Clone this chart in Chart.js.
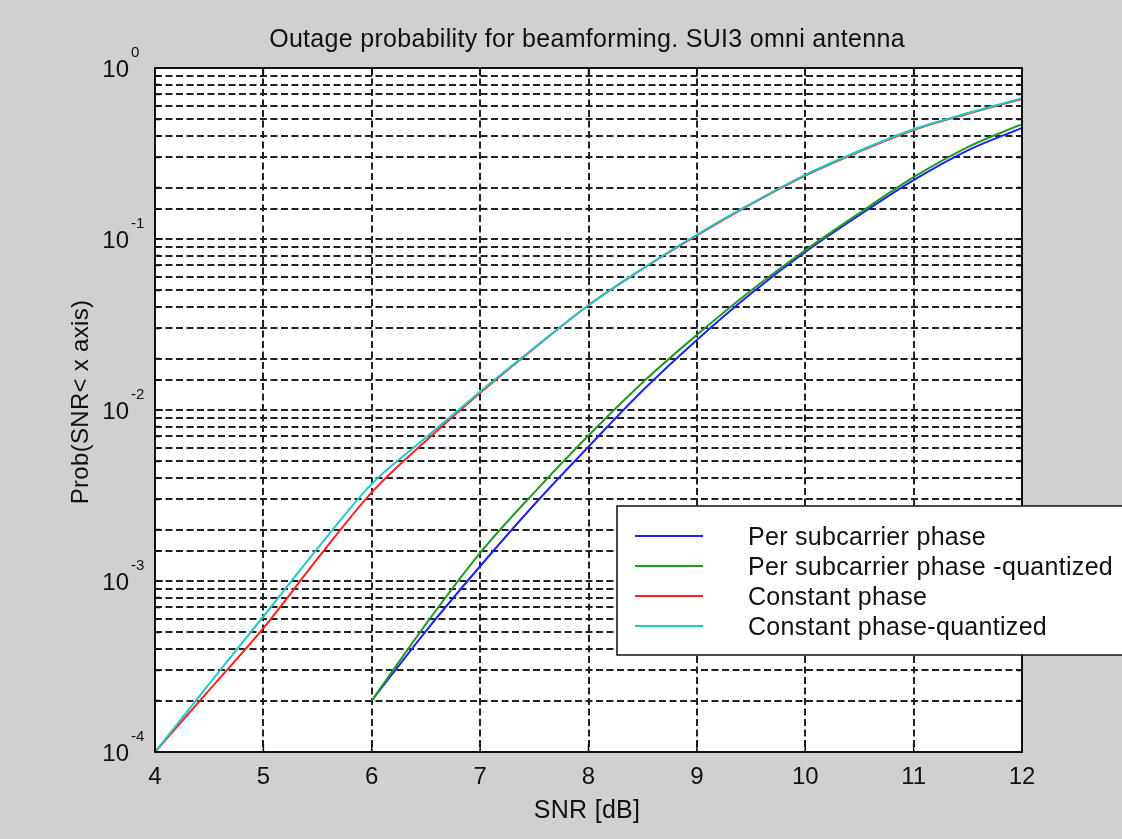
<!DOCTYPE html>
<html>
<head>
<meta charset="utf-8">
<script src="https://cdn.jsdelivr.net/npm/chart.js@4.4.1/dist/chart.umd.min.js"></script>
<style>
  html, body { margin: 0; padding: 0; background: #d0d0d0; }
  canvas { display: block; }
</style>
</head>
<body>
<canvas id="outageChart" width="1122" height="839"></canvas>
<script>
const titleText = "Outage probability for beamforming. SUI3 omni antenna";
const xLabel = "SNR [dB]";
const yLabel = "Prob(SNR< x axis)";

const xTicks = [4, 5, 6, 7, 8, 9, 10, 11, 12];
const yExponents = [0, -1, -2, -3, -4];

const snrConstant = [4, 4.5, 5, 5.5, 6, 6.5, 7, 7.5, 8, 8.5, 9, 9.5, 10, 10.5, 11, 11.5, 12];
const snrPerSub = [6, 6.5, 7, 7.5, 8, 8.5, 9, 9.5, 10, 10.5, 11, 11.5, 12];

const perSubcarrier = [2e-4, 5.1e-4, 1.22e-3, 2.8e-3, 6.1e-3, 1.3e-2, 2.57e-2, 4.8e-2, 8.4e-2, 0.138, 0.221, 0.33, 0.446];
const perSubcarrierQ = [2e-4, 5.6e-4, 1.46e-3, 3.3e-3, 7.1e-3, 1.45e-2, 2.75e-2, 5.0e-2, 8.6e-2, 0.142, 0.23, 0.345, 0.47];
const constantPhase = [1e-4, 2.3e-4, 5.3e-4, 1.35e-3, 3.3e-3, 6.6e-3, 1.26e-2, 2.3e-2, 4.1e-2, 6.7e-2, 0.105, 0.16, 0.235, 0.325, 0.434, 0.54, 0.66];
const constantPhaseQ = [1e-4, 2.5e-4, 6.2e-4, 1.55e-3, 3.7e-3, 6.9e-3, 1.28e-2, 2.31e-2, 4.1e-2, 6.72e-2, 0.106, 0.161, 0.237, 0.328, 0.438, 0.545, 0.665];

const seriesNames = ["Per subcarrier phase", "Per subcarrier phase -quantized", "Constant phase", "Constant phase-quantized"];
const seriesColors = ["#2020ff", "#249a24", "#ff2020", "#20c8c8"];

function pts(xs, ys) {
  return xs.map((x, i) => ({ x: x, y: ys[i] }));
}

const FONT = "'Liberation Sans', Arial, sans-serif";

const matlabLook = {
  id: "matlabLook",
  beforeDraw(chart) {
    const { ctx, chartArea: a } = chart;
    ctx.save();
    ctx.fillStyle = "#d0d0d0";
    ctx.fillRect(0, 0, chart.width, chart.height);
    ctx.fillStyle = "#ffffff";
    ctx.fillRect(a.left, a.top, a.right - a.left, a.bottom - a.top);
    ctx.restore();
  },
  afterDraw(chart) {
    const { ctx, chartArea: a } = chart;
    const xs = chart.scales.x, ys = chart.scales.y;
    ctx.save();

    // inner tick marks
    ctx.strokeStyle = "#111";
    ctx.lineWidth = 1.5;
    ctx.setLineDash([]);
    xTicks.forEach(v => {
      const px = xs.getPixelForValue(v);
      ctx.beginPath();
      ctx.moveTo(px, a.bottom); ctx.lineTo(px, a.bottom - 8);
      ctx.moveTo(px, a.top); ctx.lineTo(px, a.top + 8);
      ctx.stroke();
    });
    ys.ticks.forEach(t => {
      const py = ys.getPixelForValue(t.value);
      const len = t.major ? 8 : 5;
      ctx.beginPath();
      ctx.moveTo(a.left, py); ctx.lineTo(a.left + len, py);
      ctx.moveTo(a.right, py); ctx.lineTo(a.right - len, py);
      ctx.stroke();
    });

    // axes box
    ctx.strokeStyle = "#111";
    ctx.lineWidth = 2;
    ctx.strokeRect(a.left, a.top, a.right - a.left, a.bottom - a.top);

    // title and axis titles
    ctx.fillStyle = "#111";
    ctx.textAlign = "center";
    ctx.textBaseline = "alphabetic";
    ctx.font = "25px " + FONT;
    ctx.letterSpacing = "0.3px";
    ctx.fillText(titleText, 587, 47);
    ctx.fillText(xLabel, 587, 818);
    ctx.font = "24px " + FONT;
    ctx.save();
    ctx.translate(88, 402);
    ctx.rotate(-Math.PI / 2);
    ctx.fillText(yLabel, 0, 0);
    ctx.restore();
    ctx.letterSpacing = "0px";

    // x tick labels
    ctx.font = "24px " + FONT;
    ctx.textAlign = "center";
    ctx.textBaseline = "alphabetic";
    xTicks.forEach(v => {
      ctx.fillText(String(v), xs.getPixelForValue(v), a.bottom + 32);
    });

    // y tick labels 10^n
    yExponents.forEach(e => {
      const py = ys.getPixelForValue(Math.pow(10, e));
      ctx.font = "24px " + FONT;
      ctx.textAlign = "right";
      ctx.fillText("10", 129, py + 9);
      ctx.font = "15px " + FONT;
      ctx.textAlign = "left";
      ctx.fillText(String(e), 131, py - 11);
    });

    // legend
    const lx = 617, ly = 506, lw = 520, lh = 149;
    ctx.fillStyle = "#ffffff";
    ctx.fillRect(lx, ly, lw, lh);
    ctx.strokeStyle = "#111";
    ctx.lineWidth = 1.5;
    ctx.strokeRect(lx, ly, lw, lh);
    ctx.font = "25px " + FONT;
    ctx.letterSpacing = "0.3px";
    ctx.textAlign = "left";
    ctx.textBaseline = "alphabetic";
    chart.data.datasets.forEach((ds, i) => {
      const yy = ly + 30 + i * 30;
      ctx.strokeStyle = ds.borderColor;
      ctx.lineWidth = 2;
      ctx.beginPath();
      ctx.moveTo(635, yy); ctx.lineTo(703, yy);
      ctx.stroke();
      ctx.fillStyle = "#111";
      ctx.fillText(ds.label, 748, yy + 9);
    });
    ctx.restore();
  }
};

const gridStyle = {
  color: "#222",
  lineWidth: 2,
  drawTicks: false
};

new Chart(document.getElementById("outageChart").getContext("2d"), {
  type: "line",
  data: {
    datasets: [
      { label: seriesNames[0], data: pts(snrPerSub, perSubcarrier), borderColor: seriesColors[0], order: 3 },
      { label: seriesNames[1], data: pts(snrPerSub, perSubcarrierQ), borderColor: seriesColors[1], order: 2 },
      { label: seriesNames[2], data: pts(snrConstant, constantPhase), borderColor: seriesColors[2], order: 1 },
      { label: seriesNames[3], data: pts(snrConstant, constantPhaseQ), borderColor: seriesColors[3], order: 0 }
    ].map(d => Object.assign(d, {
      borderWidth: 2,
      pointRadius: 0,
      fill: false,
      cubicInterpolationMode: "monotone"
    }))
  },
  options: {
    responsive: false,
    animation: false,
    devicePixelRatio: 1,
    layout: { padding: { left: 155, right: 100, top: 68, bottom: 87 } },
    plugins: {
      legend: { display: false },
      title: { display: false },
      tooltip: { enabled: false }
    },
    scales: {
      x: {
        type: "linear",
        min: 4,
        max: 12,
        ticks: { display: false, stepSize: 1 },
        grid: Object.assign({}, gridStyle),
        border: { display: false, dash: [7, 3.5] }
      },
      y: {
        type: "logarithmic",
        min: 1e-4,
        max: 1,
        ticks: { display: false },
        grid: Object.assign({}, gridStyle),
        border: { display: false, dash: [7, 3.5] }
      }
    }
  },
  plugins: [matlabLook]
});
</script>
</body>
</html>
